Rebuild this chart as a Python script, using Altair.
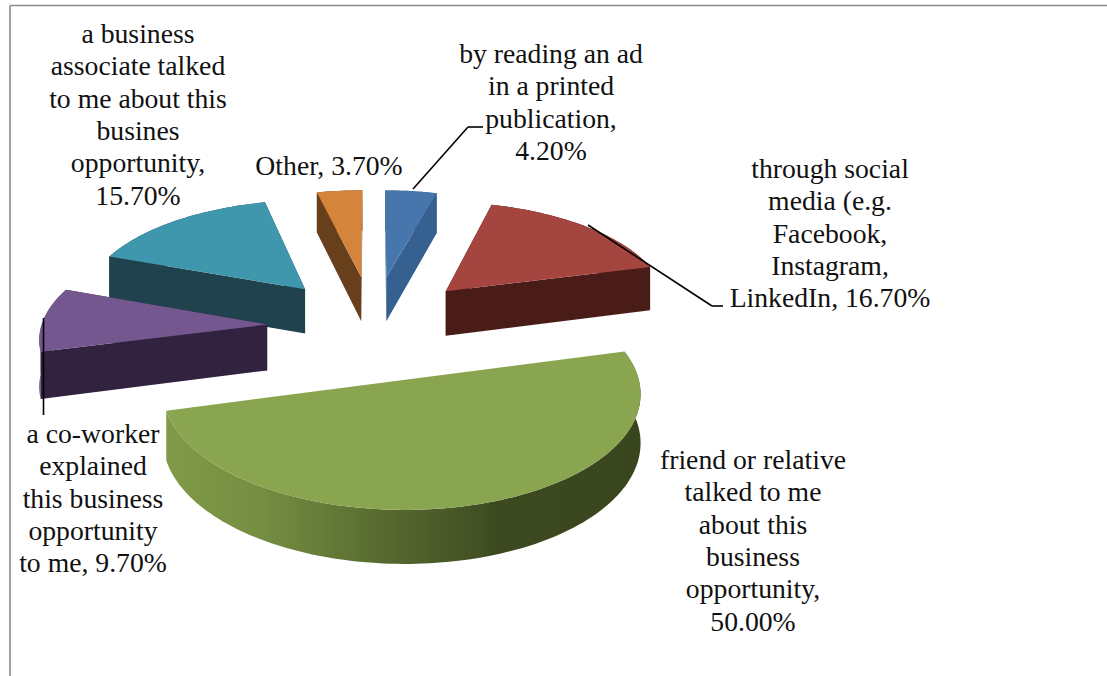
import math
import altair as alt
import pandas as pd

# Survey answers, clockwise from twelve o'clock
answers = ["by reading an ad\nin a printed\npublication,",
           "through social\nmedia (e.g.\nFacebook,\nInstagram,\nLinkedIn,",
           "friend or relative\ntalked to me\nabout this\nbusiness\nopportunity,",
           "a co-worker\nexplained\nthis business\nopportunity\nto me,",
           "a business\nassociate talked\nto me about this\nbusines\nopportunity,",
           "Other,"]
shares = [4.2, 16.7, 50.0, 9.7, 15.7, 3.7]
top_colors = ["#4776ac", "#a5453f", "#8aa54f", "#74578f", "#3f97ae", "#d5843b"]
side_colors = ["#35608f", "#4a1c18", "#3a461e", "#31223f", "#1f424e", "#683f1b"]
rim_colors = ["#35608f", "#4a1c18", "#3a461e", "#5f4676", "#1f424e", "#683f1b"]

# Where each label's first line sits, and whether its value stays on the last line
label_x = [551, 830, 753, 93, 138, 329]
label_y = [55, 170, 461, 435, 35, 167]
inline_value = [False, True, False, True, False, True]

# Tilted-disc camera: centre, semi-axes, perspective strength, wall height, explosion
CX, CY, A, B, K, DEPTH = 373, 327, 226, 105, 0.10, 46
EXPLODE_X, EXPLODE_Y = 0.47, 0.5


def project(px, py, drop=0.0):
    s = 1 / (1 + K * py)
    return [CX + A * px * s, -(CY - B * py * s + drop * DEPTH * s)]


def polygon(points, fill):
    ring = points + [points[0]]
    return {"type": "Feature", "properties": {"fill": fill},
            "geometry": {"type": "Polygon", "coordinates": [ring]}}


def collection(features):
    return alt.InlineData(values={"type": "FeatureCollection", "features": features},
                          format=alt.DataFormat(property="features", type="json"))


total = sum(shares)
flat_faces, green_rim, green_top = [], [], []
start = 0.0
slices = []
for i, share in enumerate(shares):
    sweep = share / total * 2 * math.pi
    slices.append((i, start, start + sweep))
    start += sweep

# Painter's order: far slices first, the half disc last
for i, a0, a1 in sorted(slices, key=lambda t: math.cos((t[1] + t[2]) / 2) * -1 if t[0] != 3 else 0.5):
    mid = (a0 + a1) / 2
    ox, oy = EXPLODE_X * math.sin(mid), EXPLODE_Y * math.cos(mid)
    steps = max(4, int((a1 - a0) * 40))
    arc = [(ox + math.sin(a0 + (a1 - a0) * n / steps), oy + math.cos(a0 + (a1 - a0) * n / steps))
           for n in range(steps + 1)]
    apex = (ox, oy)
    top = [project(*apex)] + [project(*p) for p in arc]
    rim = [project(*p) for p in arc] + [project(*p, drop=1) for p in reversed(arc)]
    cut_a = [project(*apex), project(*arc[0]), project(*arc[0], drop=1), project(*apex, drop=1)]
    cut_b = [project(*apex), project(*arc[-1]), project(*arc[-1], drop=1), project(*apex, drop=1)]
    if i == 2:
        green_rim.append(polygon(rim, "none"))
        green_top.append(polygon(top, top_colors[i]))
        continue
    far, near = (cut_a, cut_b) if math.cos(a0) + oy > math.cos(a1) + oy else (cut_b, cut_a)
    flat_faces.append(polygon(far, side_colors[i]))
    flat_faces.append(polygon(rim, rim_colors[i]))
    flat_faces.append(polygon(near, side_colors[i]))
    flat_faces.append(polygon(top, top_colors[i]))

camera = dict(type="identity", reflectY=True, scale=1, translate=[0, 0])

faces = (alt.Chart(collection(flat_faces)).mark_geoshape(strokeWidth=0)
         .encode(fill=alt.Fill("properties.fill:N", scale=None))
         .project(**camera))

wall_shade = alt.LinearGradient(
    gradient="linear", x1=0, x2=1, y1=0, y2=0,
    stops=[alt.GradientStop(offset=0, color="#7f9a48"),
           alt.GradientStop(offset=0.2, color="#758e42"),
           alt.GradientStop(offset=0.45, color="#586b30"),
           alt.GradientStop(offset=0.7, color="#3d4a20"),
           alt.GradientStop(offset=1, color="#39451d")])
big_wall = (alt.Chart(collection(green_rim)).mark_geoshape(strokeWidth=0, fill=wall_shade)
            .project(**camera))
big_top = (alt.Chart(collection(green_top)).mark_geoshape(strokeWidth=0, fill=top_colors[2])
           .project(**camera))

# Frame along the top and left of the figure
frame_color = "#8a8a8a"
frame = [
    alt.Chart(pd.DataFrame({"k": [0]})).mark_rule(color=frame_color, strokeWidth=1.6).encode(
        x=alt.value(x0), x2=alt.value(x1), y=alt.value(y0), y2=alt.value(y1))
    for x0, y0, x1, y1 in [(10, 5.5, 1107, 5.5), (10, 5.5, 10, 676)]
]

# Leader lines from slices out to their labels
leaders = [
    alt.Chart(pd.DataFrame({"k": [0]})).mark_rule(color="#000000", strokeWidth=1.6).encode(
        x=alt.value(x0), x2=alt.value(x1), y=alt.value(y0), y2=alt.value(y1))
    for x0, y0, x1, y1 in [(413, 189, 468, 127), (468, 127, 483, 127),
                           (588, 225, 712, 306), (712, 306, 723, 306),
                           (43.5, 318, 43.5, 415)]
]

label_rows = []
for name, share, x, y, inline in zip(answers, shares, label_x, label_y, inline_value):
    sep = " " if inline else "\n"
    label_rows.append({"text": f"{name}{sep}{share:.2f}%", "x": x, "y": y})

labels = [
    alt.Chart(pd.DataFrame([row])).mark_text(
        font="Liberation Serif", fontSize=27.7, color="#111111", align="center",
        baseline="middle", lineBreak="\n", lineHeight=32.3
    ).encode(text="text:N", x=alt.value(row["x"]), y=alt.value(row["y"]))
    for row in label_rows
]

chart = alt.layer(faces, big_wall, big_top, *frame, *leaders, *labels).properties(
    width=1107, height=676, padding=0, autosize="none", background="white"
).configure_view(stroke=None)

chart.save("out.html", embed_options={"renderer": "svg", "actions": False})
